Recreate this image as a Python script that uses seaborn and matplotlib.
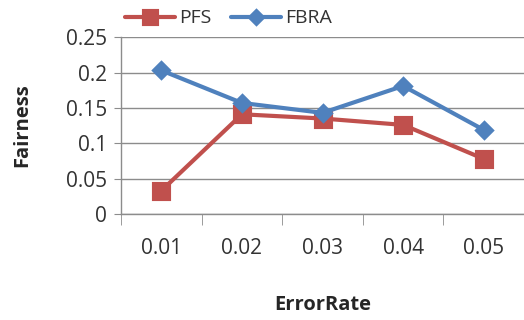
import matplotlib
matplotlib.use("Agg")
import matplotlib.pyplot as plt
import seaborn as sns
import pandas as pd
from matplotlib.ticker import FixedLocator

error_rates = ["0.01", "0.02", "0.03", "0.04", "0.05"]
pfs = [0.033, 0.141, 0.135, 0.126, 0.078]
fbra = [0.203, 0.157, 0.143, 0.181, 0.119]
series_names = ["PFS", "FBRA"]
yticks = [0, 0.05, 0.1, 0.15, 0.2, 0.25]
ytick_labels = ["0", "0.05", "0.1", "0.15", "0.2", "0.25"]

df = pd.DataFrame({
    "ErrorRate": error_rates * 2,
    "Fairness": pfs + fbra,
    "Series": [series_names[0]] * 5 + [series_names[1]] * 5,
})

sns.set_style("white")
plt.rcParams["font.family"] = ["Open Sans", "DejaVu Sans"]

fig = plt.figure(figsize=(5.24, 3.2), dpi=100)
ax = fig.add_axes([0.231, 0.331, 0.769, 0.553])

red = "#C0504D"
blue = "#4F81BD"
sns.pointplot(data=df, x="ErrorRate", y="Fairness", hue="Series",
              order=error_rates, hue_order=series_names,
              palette=[red, blue], markers=["s", "D"], linestyles=["-", "-"],
              markersize=11, linewidth=3, ax=ax, errorbar=None)
for ln in ax.lines:
    if ln.get_marker() == "D":
        ln.set_markersize(8.5)

ax.set_xlim(-0.5, 4.5)
ax.set_ylim(0, 0.25)
ax.set_yticks(yticks)
ax.set_yticklabels(ytick_labels)
ax.yaxis.grid(True, color="#8c8c8c", linewidth=1)
ax.set_axisbelow(True)
for s in ["top", "right"]:
    ax.spines[s].set_visible(False)
for s in ["left", "bottom"]:
    ax.spines[s].set_color("#8c8c8c")
    ax.spines[s].set_linewidth(1)

ax.tick_params(axis="y", which="major", length=5, color="#8c8c8c", labelsize=15,
               labelcolor="#333333", direction="out", pad=5, left=True)
ax.tick_params(axis="x", which="major", length=0, labelsize=15,
               labelcolor="#333333", pad=17)
ax.xaxis.set_minor_locator(FixedLocator([-0.5, 0.5, 1.5, 2.5, 3.5, 4.5]))
ax.tick_params(axis="x", which="minor", length=8, color="#8c8c8c", direction="out", bottom=True)

ax.set_xlabel("ErrorRate", fontsize=14.5, fontweight="bold", labelpad=26)
ax.set_ylabel("Fairness", fontsize=14.5, fontweight="bold", labelpad=24)

handles, labels = ax.get_legend_handles_labels()
for h in handles:
    if h.get_marker() == "D":
        h.set_markersize(7)
    else:
        h.set_markersize(10)
leg = ax.legend(handles, labels, ncol=2, frameon=False, loc="lower left",
                bbox_to_anchor=(-0.015, 1.0), fontsize=14, handlelength=2.6,
                columnspacing=1.0, handletextpad=0.2, borderaxespad=0.1)
for t in leg.get_texts():
    t.set_color("#333333")

fig.savefig("out.png", dpi=100)
